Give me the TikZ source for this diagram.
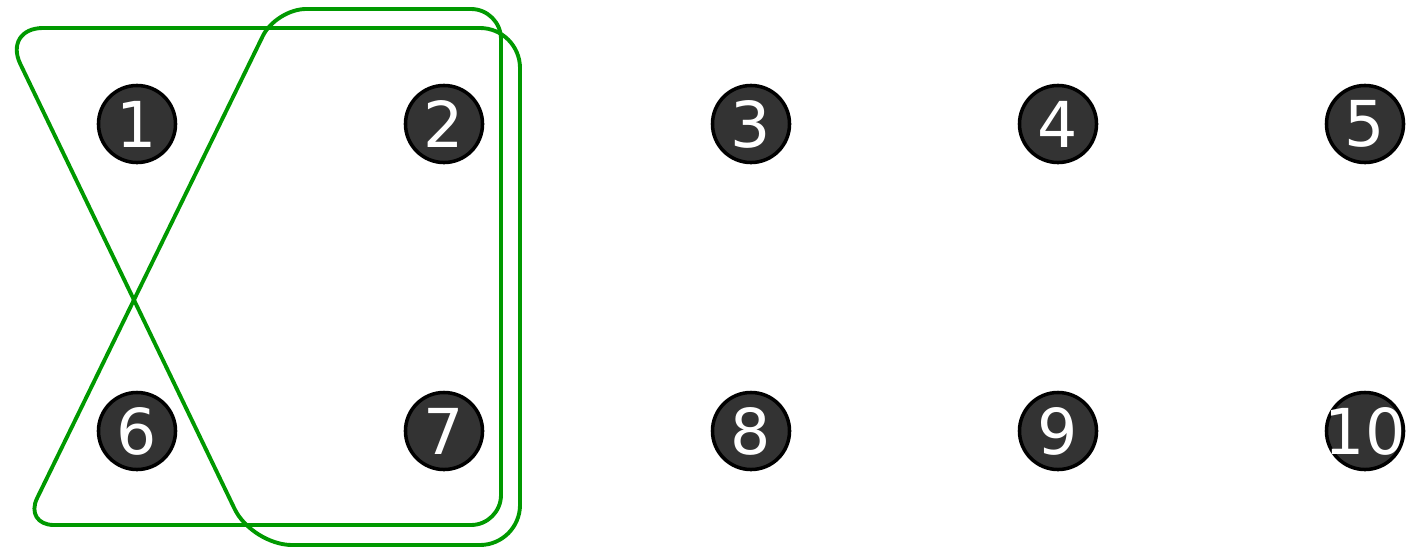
\documentclass[tikz,border=0pt]{standalone}
\usepackage{fontspec}
\setmainfont{DejaVu Sans}
\definecolor{vertexgray}{HTML}{333333}
\definecolor{edgegreen}{HTML}{009900}
\tikzstyle{vertex} = [circle,draw=black,line width=1pt,fill=vertexgray,text=white,minimum size=0.77cm,inner sep=0pt,font=\fontsize{18}{20}\selectfont]
\tikzstyle{hedge} = [draw=edgegreen,line width=1.1pt]

\begin{document}
\begin{tikzpicture}[x=0.01cm,y=-0.01cm]
	\useasboundingbox (0,0) rectangle (1412,551);

	\node[vertex] (n1) at (137,124) {1};
	\node[vertex] (n2) at (444,124) {2};
	\node[vertex] (n3) at (751,124) {3};
	\node[vertex] (n4) at (1058,124) {4};
	\node[vertex] (n5) at (1365,124) {5};
	\node[vertex] (n6) at (137,431) {6};
	\node[vertex] (n7) at (444,431) {7};
	\node[vertex] (n8) at (751,431) {8};
	\node[vertex] (n9) at (1058,431) {9};
	\node[vertex] (n10) at (1365,431) {\makebox[0pt]{10}};

	% hyperedges
	\draw[hedge,rounded corners=0.4cm] (3,28) -- (520,28) -- (520,545) -- (252,545) -- cycle;
	\draw[hedge,rounded corners=0.3cm] (276,9) -- (501,9) -- (501,525) -- (24,525) -- cycle;
\end{tikzpicture}
\end{document}
